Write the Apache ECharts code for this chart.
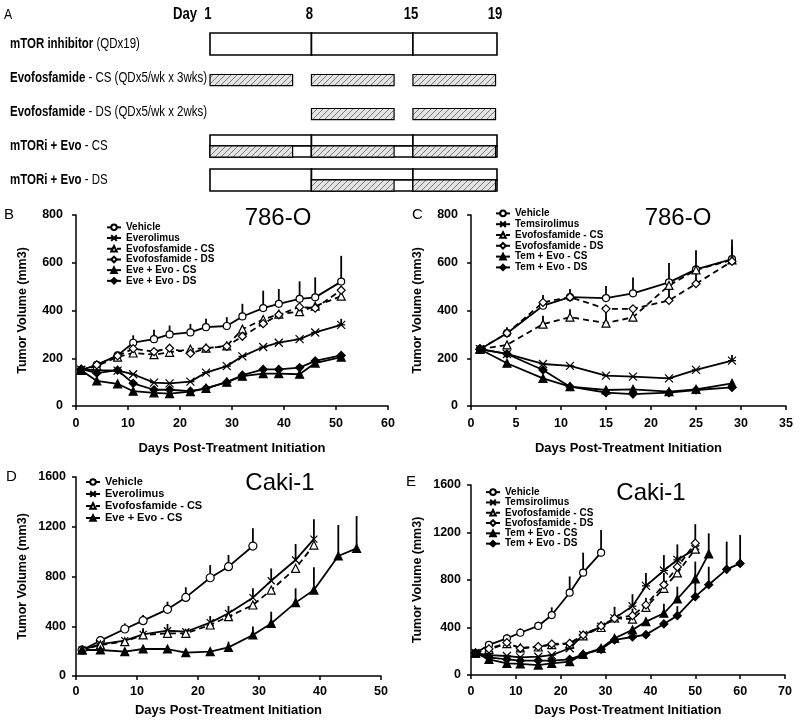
<!DOCTYPE html>
<html><head><meta charset="utf-8">
<script src="https://cdn.jsdelivr.net/npm/echarts@6/dist/echarts.min.js"></script>
<style>html,body{margin:0;padding:0;background:#fff}#c{width:800px;height:727px}</style>
</head><body><div id="c"></div>
<script>
// ---------- Panel A : dosing schedule ----------
const schedRows = ['mTOR inhibitor','Evofosfamide - CS','Evofosfamide - DS','mTORi + Evo - CS','mTORi + Evo - DS'];
const schedBold = ['mTOR inhibitor','Evofosfamide','Evofosfamide','mTORi + Evo','mTORi + Evo'];
const schedRest = [' (QDx19)',' - CS (QDx5/wk x 3wks)',' - DS (QDx5/wk x 2wks)',' - CS',' - DS'];
const dayTickLabels = ['1','8','15','19'];
const dayTickPos = [0,7,14,19.8];
const weekSpans = [[0,7],[7,14],[14,19.8]];
const doseSpans = [[0,5.7],[7,12.7],[14,19.7]];
const mtorWeeks  = [1,1,1];
const evoCSWeeks = [1,1,1];
const evoDSWeeks = [0,1,1];

// ---------- Panel B : 786-O, everolimus ----------
const bDays = [1,4,8,11,15,18,22,25,29,32,36,39,43,46,51];
const bVehicle    = [150,172,212,265,280,300,308,330,335,375,410,428,449,455,521];
const bVehicleErr = [null,185,222,296,319,337,344,365,372,428,483,490,522,539,629];
const bEverolimus = [152,150,148,133,98,95,102,140,167,208,247,265,280,308,340];
const bEverolimusErr = [null,null,null,null,null,null,null,null,null,null,null,null,null,null,365];
const bEvoCS = [150,168,205,222,215,225,238,242,252,322,362,385,395,418,460];
const bEvoDS = [150,172,210,240,228,242,220,242,250,292,345,382,415,410,485];
const bComboCS = [150,105,93,62,55,52,60,74,100,125,136,136,133,180,205];
const bComboDS = [155,138,150,95,68,68,62,74,100,129,153,153,161,189,212];

// ---------- Panel C : 786-O, temsirolimus ----------
const cDays = [1,4,8,11,15,18,22,25,29];
const cVehicle    = [238,305,420,456,452,472,518,572,615];
const cVehicleErr = [null,330,465,490,503,538,599,652,697];
const cTem    = [238,218,176,168,127,123,116,151,190];
const cTemErr = [null,null,null,null,null,null,null,null,214];
const cEvoCS    = [238,256,343,372,347,372,505,570,612];
const cEvoCSErr = [null,null,378,405,396,null,null,null,null];
const cEvoDS    = [238,305,434,456,407,407,442,512,606];
const cEvoDSErr = [null,null,null,null,null,null,487,557,670];
const cComboCS = [238,179,116,81,67,70,60,70,95];
const cComboDS = [238,218,151,81,56,50,56,67,78];

// ---------- Panel D : Caki-1, everolimus ----------
const dVehDays = [1,4,8,11,15,18,22,25,29];
const dVehicle    = [209,284,378,445,536,632,790,879,1045];
const dVehicleErr = [null,300,423,490,598,713,892,973,1187];
const dDays = [1,4,8,11,15,18,22,25,29,32,36,39];
const dEverolimus    = [209,257,284,335,364,356,429,504,630,766,933,1101];
const dEverolimusErr = [null,null,null,383,418,null,482,563,705,865,1061,1260];
const dEvoCS = [209,250,276,330,343,343,410,477,571,691,866,1053];
const dComboDays = [1,4,8,11,15,18,22,25,29,32,36,39,43,46];
const dComboCS    = [209,209,196,217,217,188,196,230,330,423,590,691,965,1026];
const dComboCSErr = [null,null,null,null,null,null,null,276,397,517,705,874,1214,1286];

// ---------- Panel E : Caki-1, temsirolimus ----------
const eVehDays = [1,4,8,11,15,18,22,25,29];
const eVehicle    = [185,253,309,356,413,505,693,862,1030];
const eVehicleErr = [null,null,345,393,449,570,830,1030,1221];
const eDays = [1,4,8,11,15,18,22,25,29,32,36,39,43,46,50];
const eTem    = [185,168,160,149,154,168,225,337,407,477,580,750,880,970,1060];
const eTemErr = [null,null,null,null,null,null,270,370,450,575,680,860,1010,1100,null];
const eEvoCS    = [185,215,265,228,236,255,262,330,400,480,470,570,730,860,1060];
const eEvoDS    = [185,220,272,225,239,261,267,337,413,477,500,590,760,910,1110];
const eEvoDSErr = [null,null,null,null,null,null,295,null,null,null,560,650,860,1000,1270];
const eComboCSDays = [1,4,8,11,15,18,22,25,29,32,36,39,43,46,50,53];
const eComboCS    = [185,132,98,93,84,98,112,174,225,309,380,450,520,640,810,1020];
const eComboCSErr = [null,null,null,null,null,null,null,null,null,null,null,null,600,744,955,1193];
const eComboDSDays = [1,4,8,11,15,18,22,25,29,32,36,39,43,46,50,53,57,60];
const eComboDS    = [185,149,132,121,121,121,132,174,216,295,320,340,430,500,660,760,890,940];
const eComboDSErr = [null,null,null,null,null,null,null,null,null,null,null,null,null,580,780,912,1123,1179];

// ---------- styling ----------
const FONT = "'Liberation Sans', Arial, Helvetica, sans-serif";
const ASTER = 'path://M0,0L10,10M10,0L0,10M0,5L10,5';
const XMARK = 'path://M0,0L10,10M10,0L0,10';
const ST = {
  vehicle: {symbol:'circle', fill:'#fff', size:7},
  mtor:    {symbol:ASTER, fill:'#000', size:8},
  xmark:   {symbol:XMARK, fill:'#000', size:7},
  evoCS:   {symbol:'triangle', fill:'#fff', size:8, dash:true},
  evoDS:   {symbol:'diamond', fill:'#fff', size:8, dash:true},
  comboCS: {symbol:'triangle', fill:'#000', size:8},
  comboDS: {symbol:'diamond', fill:'#000', size:8}
};

const hc = document.createElement('canvas'); hc.width = 6; hc.height = 6;
const g = hc.getContext('2d');
g.fillStyle = '#e4e4e4'; g.fillRect(0,0,6,6);
g.strokeStyle = '#7a7a7a'; g.lineWidth = 1;
g.beginPath(); g.moveTo(0,6); g.lineTo(6,0); g.moveTo(-1,1); g.lineTo(1,-1); g.moveTo(5,7); g.lineTo(7,5); g.stroke();
const hatch = {image: hc, repeat: 'repeat'};

// schedule items : [row, start, end, kind]  kind 0 full white, 1 mid hatch, 2 top white, 3 bottom white, 4 bottom hatch
const schedItems = [];
weekSpans.forEach((w,i)=>{ if(mtorWeeks[i]) schedItems.push([0,w[0],w[1],0]); });
doseSpans.forEach((w,i)=>{ if(evoCSWeeks[i]) schedItems.push([1,w[0],w[1],1]); });
doseSpans.forEach((w,i)=>{ if(evoDSWeeks[i]) schedItems.push([2,w[0],w[1],1]); });
[[3,evoCSWeeks],[4,evoDSWeeks]].forEach(([row,evo])=>{
  weekSpans.forEach((w,i)=>{
    if(mtorWeeks[i] && evo[i]){
      schedItems.push([row,w[0],w[1],2]);
      schedItems.push([row,w[0],w[1],3]);
      schedItems.push([row,doseSpans[i][0],doseSpans[i][1],4]);
    } else if(mtorWeeks[i]) schedItems.push([row,w[0],w[1],0]);
  });
});

function renderSched(params, api){
  const row = api.value(0), s = api.value(1), e = api.value(2), kind = api.value(3);
  const p0 = api.coord([s,row]), p1 = api.coord([e,row]);
  const band = api.size([0,1])[1];
  const full = band*0.65, half = full/2;
  let y, h;
  if(kind===0){y=p0[1]-full/2;h=full;}
  else if(kind===1){y=p0[1]-half/2+2;h=half;}
  else if(kind===2){y=p0[1]-full/2;h=half;}
  else {y=p0[1];h=half;}
  const isH = (kind===1||kind===4);
  return {type:'rect', shape:{x:p0[0], y:y, width:p1[0]-p0[0], height:h},
    style:{fill: isH ? hatch : '#fff', stroke:'#000', lineWidth: isH?1.2:1.6}};
}

function lineSeries(name, gi, days, vals, st){
  return {type:'line', name:name, xAxisIndex:gi, yAxisIndex:gi,
    data: days.map((d,i)=>[d, vals[i]]), symbol: st.symbol, symbolSize: st.size,
    showAllSymbol:true, animation:false, z:3,
    lineStyle:{color:'#000', width:1.8, type: st.dash ? [6,4] : 'solid'},
    itemStyle:{color: st.fill, borderColor:'#000', borderWidth:1.2},
    emphasis:{disabled:true}};
}
function errSeries(gi, days, vals, highs){
  const data = [];
  days.forEach((d,i)=>{ if(highs[i]!=null) data.push([d, vals[i], highs[i]]); });
  return {type:'custom', xAxisIndex:gi, yAxisIndex:gi, data:data, silent:true, z:2, animation:false,
    encode:{x:0, y:[1,2]},
    renderItem:(p,api)=>{
      const a = api.coord([api.value(0), api.value(1)]);
      const b = api.coord([api.value(0), api.value(2)]);
      return {type:'line', shape:{x1:a[0],y1:a[1],x2:b[0],y2:b[1]}, style:{stroke:'#000', lineWidth:1.8}};
    }};
}
function xAx(gi, max, interval, gap, lm){
  return {type:'value', gridIndex:gi, min:0, max:max, interval:interval,
    name:'Days Post-Treatment Initiation', nameLocation:'middle', nameGap:gap,
    nameTextStyle:{fontFamily:FONT, fontWeight:'bold', fontSize:13, color:'#000'},
    axisLine:{lineStyle:{color:'#000', width:1.5}},
    axisTick:{length:4, lineStyle:{color:'#000', width:1.5}},
    axisLabel:{fontFamily:FONT, fontWeight:'bold', fontSize:12.5, color:'#000', margin:lm, formatter:v=>String(v)},
    splitLine:{show:false}};
}
function yAx(gi, max, interval, gap, lm){
  return {type:'value', gridIndex:gi, min:0, max:max, interval:interval,
    name:'Tumor Volume (mm3)', nameLocation:'middle', nameGap:gap,
    nameTextStyle:{fontFamily:FONT, fontWeight:'bold', fontSize:12.5, color:'#000'},
    axisLine:{show:true, lineStyle:{color:'#000', width:1.5}},
    axisTick:{show:true, length:4, lineStyle:{color:'#000', width:1.5}},
    axisLabel:{fontFamily:FONT, fontWeight:'bold', fontSize:12.5, color:'#000', margin:lm, formatter:v=>String(v)},
    splitLine:{show:false}};
}
function legend(names, left, top, fs, lh){
  return {data:names, left:left, top:top, orient:'vertical', padding:0, itemGap:0,
    itemWidth:14, itemHeight:7, selectedMode:false,
    formatter:n=>n.split('|')[0],
    textStyle:{fontFamily:FONT, fontWeight:'bold', fontSize:fs, lineHeight:lh, color:'#000'}};
}

const series = [
  {type:'custom', xAxisIndex:0, yAxisIndex:0, data:schedItems, renderItem:renderSched, silent:true, animation:false, encode:{x:[1,2], y:0}},
  // B
  errSeries(1,bDays,bVehicle,bVehicleErr), errSeries(1,bDays,bEverolimus,bEverolimusErr),
  lineSeries('Vehicle|B',1,bDays,bVehicle,ST.vehicle),
  lineSeries('Everolimus|B',1,bDays,bEverolimus,ST.mtor),
  lineSeries('Evofosfamide - CS|B',1,bDays,bEvoCS,ST.evoCS),
  lineSeries('Evofosfamide - DS|B',1,bDays,bEvoDS,ST.evoDS),
  lineSeries('Eve + Evo - CS|B',1,bDays,bComboCS,ST.comboCS),
  lineSeries('Eve + Evo - DS|B',1,bDays,bComboDS,ST.comboDS),
  // C
  errSeries(2,cDays,cVehicle,cVehicleErr), errSeries(2,cDays,cTem,cTemErr),
  errSeries(2,cDays,cEvoCS,cEvoCSErr), errSeries(2,cDays,cEvoDS,cEvoDSErr),
  lineSeries('Vehicle|C',2,cDays,cVehicle,ST.vehicle),
  lineSeries('Temsirolimus|C',2,cDays,cTem,ST.mtor),
  lineSeries('Evofosfamide - CS|C',2,cDays,cEvoCS,ST.evoCS),
  lineSeries('Evofosfamide - DS|C',2,cDays,cEvoDS,ST.evoDS),
  lineSeries('Tem + Evo - CS|C',2,cDays,cComboCS,ST.comboCS),
  lineSeries('Tem + Evo - DS|C',2,cDays,cComboDS,ST.comboDS),
  // D
  errSeries(3,dVehDays,dVehicle,dVehicleErr), errSeries(3,dDays,dEverolimus,dEverolimusErr),
  errSeries(3,dComboDays,dComboCS,dComboCSErr),
  lineSeries('Vehicle|D',3,dVehDays,dVehicle,Object.assign({},ST.vehicle,{size:8})),
  lineSeries('Everolimus|D',3,dDays,dEverolimus,ST.xmark),
  lineSeries('Evofosfamide - CS|D',3,dDays,dEvoCS,ST.evoCS),
  lineSeries('Eve + Evo - CS|D',3,dComboDays,dComboCS,ST.comboCS),
  // E
  errSeries(4,eVehDays,eVehicle,eVehicleErr), errSeries(4,eDays,eTem,eTemErr),
  errSeries(4,eDays,eEvoDS,eEvoDSErr), errSeries(4,eComboCSDays,eComboCS,eComboCSErr),
  errSeries(4,eComboDSDays,eComboDS,eComboDSErr),
  lineSeries('Vehicle|E',4,eVehDays,eVehicle,ST.vehicle),
  lineSeries('Temsirolimus|E',4,eDays,eTem,ST.mtor),
  lineSeries('Evofosfamide - CS|E',4,eDays,eEvoCS,ST.evoCS),
  lineSeries('Evofosfamide - DS|E',4,eDays,eEvoDS,ST.evoDS),
  lineSeries('Tem + Evo - CS|E',4,eComboCSDays,eComboCS,ST.comboCS),
  lineSeries('Tem + Evo - DS|E',4,eComboDSDays,eComboDS,ST.comboDS)
];

const chart = echarts.init(document.getElementById('c'), null, {renderer:'canvas'});
chart.setOption({
  animation:false,
  backgroundColor:'#fff',
  grid:[
    {left:210, top:27, width:287, height:170},
    {left:76, top:215, width:312, height:191},
    {left:471, top:215, width:315, height:191},
    {left:76, top:477, width:305, height:199},
    {left:471, top:485, width:314, height:190}
  ],
  xAxis:[
    {type:'value', gridIndex:0, min:0, max:19.8, show:false},
    xAx(1,60,10,36,11), xAx(2,35,5,36,11), xAx(3,50,10,28,9), xAx(4,70,10,29,10)
  ],
  yAxis:[
    {type:'category', gridIndex:0, data:schedRows, inverse:true, show:false},
    yAx(1,800,200,47,13), yAx(2,800,200,47,13), yAx(3,1600,400,47,10), yAx(4,1600,400,47,10)
  ],
  legend:[
    legend(['Vehicle|B','Everolimus|B','Evofosfamide - CS|B','Evofosfamide - DS|B','Eve + Evo - CS|B','Eve + Evo - DS|B'],106,222,10,10.7),
    legend(['Vehicle|C','Temsirolimus|C','Evofosfamide - CS|C','Evofosfamide - DS|C','Tem + Evo - CS|C','Tem + Evo - DS|C'],495,208,10,10.8),
    legend(['Vehicle|D','Everolimus|D','Evofosfamide - CS|D','Eve + Evo - CS|D'],85,476,11,12),
    legend(['Vehicle|E','Temsirolimus|E','Evofosfamide - CS|E','Evofosfamide - DS|E','Tem + Evo - CS|E','Tem + Evo - DS|E'],485,487,10,10.3)
  ],
  series:series
});

// text elements
const narrow = 0.82;
const gfx = [];
function t(x,y,text,opt){
  gfx.push(Object.assign({type:'text', x:x, y:y, silent:true,
    style:Object.assign({text:text, fill:'#000', fontFamily:FONT, fontSize:14, align:'left', verticalAlign:'middle'}, opt||{})}));
}
// panel A
gfx.push({type:'text', x:4, y:15, scaleX:narrow, silent:true, style:{text:'A', fill:'#000', fontFamily:FONT, fontSize:15, verticalAlign:'middle'}});
gfx.push({type:'text', x:173, y:15, scaleX:narrow, silent:true, style:{text:'Day', fill:'#000', fontFamily:FONT, fontSize:16, fontWeight:'bold', verticalAlign:'middle'}});
dayTickLabels.forEach((lab,i)=>{
  const p = chart.convertToPixel({xAxisIndex:0}, dayTickPos[i]);
  gfx.push({type:'text', x:p-2, y:15, scaleX:narrow, silent:true, style:{text:lab, fill:'#000', fontFamily:FONT, fontSize:16, fontWeight:'bold', align:'center', verticalAlign:'middle'}});
});
schedRows.forEach((r,i)=>{
  const py = chart.convertToPixel({yAxisIndex:0}, r);
  gfx.push({type:'text', x:10, y:py, scaleX:narrow, silent:true,
    style:{text:'{b|'+schedBold[i]+'}{r|'+schedRest[i]+'}', fill:'#000', fontFamily:FONT, fontSize:14, verticalAlign:'middle',
      rich:{b:{fontWeight:'bold', fontSize:14, fontFamily:FONT}, r:{fontSize:14, fontFamily:FONT}}}});
});
// panel letters & titles
t(4,215,'B',{fontSize:15});
t(412,215,'C',{fontSize:15});
t(6,477,'D',{fontSize:15});
t(406,482,'E',{fontSize:15});
t(278,218,'786-O',{fontSize:24, align:'center'});
t(678,218,'786-O',{fontSize:24, align:'center'});
t(280,483,'Caki-1',{fontSize:24, align:'center'});
t(651,493,'Caki-1',{fontSize:24, align:'center'});
chart.setOption({graphic:gfx});
</script></body></html>
